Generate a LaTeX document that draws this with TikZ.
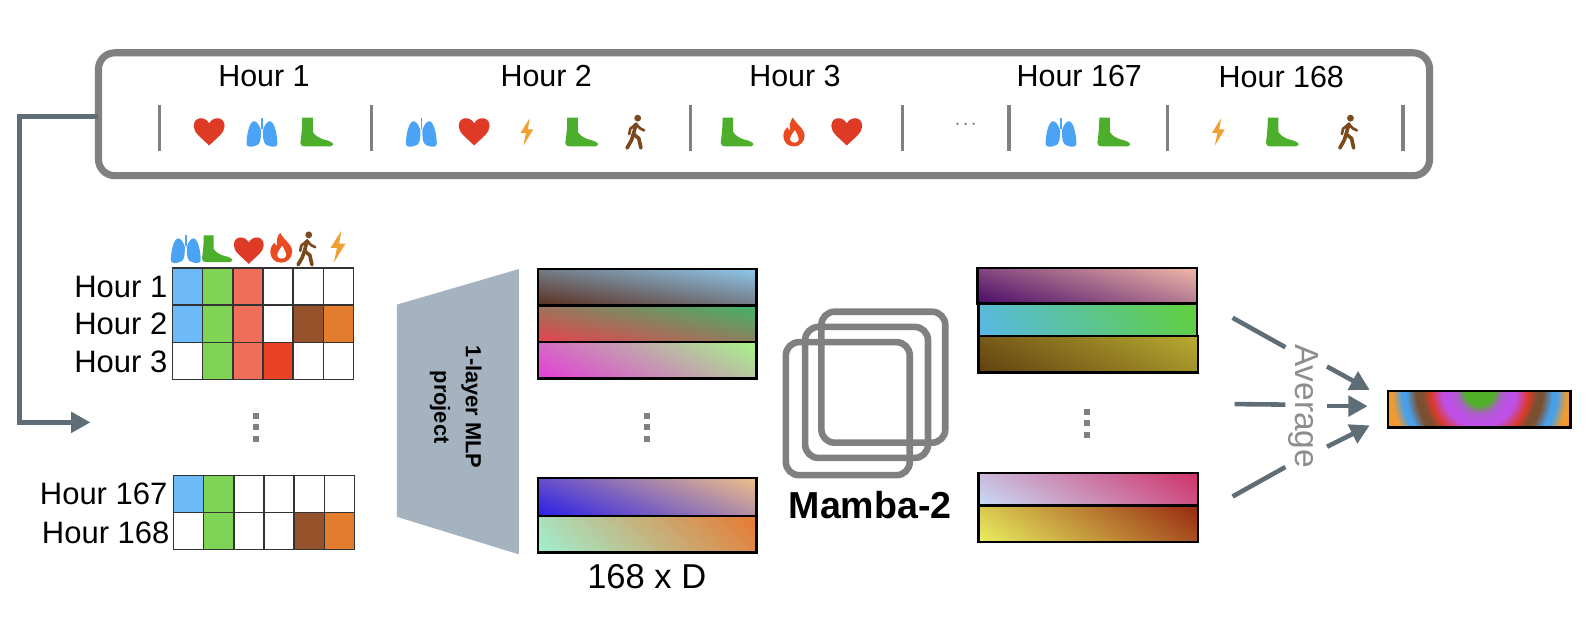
\documentclass[tikz,border=0pt]{standalone}
\usepackage{fontspec}
\setmainfont{Liberation Sans}
\usetikzlibrary{arrows.meta}
\definecolor{framegray}{HTML}{808080}
\definecolor{arrowgray}{HTML}{5F6E76}
\definecolor{icred}{HTML}{DE3A26}
\definecolor{icblue}{HTML}{4AA3F5}
\definecolor{icgreen}{HTML}{4CAF2C}
\definecolor{icorange}{HTML}{F0A030}
\definecolor{icbrown}{HTML}{7A4A1E}
\definecolor{icflame}{HTML}{EA4A20}
\definecolor{cB}{HTML}{6CBBF8}
\definecolor{cG}{HTML}{80D455}
\definecolor{cR}{HTML}{EE6E5A}
\definecolor{cF}{HTML}{EA4222}
\definecolor{cW}{HTML}{96522A}
\definecolor{cO}{HTML}{E47C2E}
\definecolor{trap}{HTML}{A5B3C0}
\definecolor{gridline}{HTML}{333333}
% name, r0 g0 b0 (lower left), r1 g1 b1 (upper right), weight of x in the gradient direction
\newcommand\defgrad[8]{\pgfdeclarefunctionalshading{#1}{\pgfpoint{-50bp}{-50bp}}{\pgfpoint{50bp}{50bp}}{}{1 #8 sub mul exch #8 mul add 50 add 100 div dup dup #5 #2 sub mul #2 add 255 div 3 1 roll #6 #3 sub mul #3 add 255 div exch #7 #4 sub mul #4 add 255 div}}
\defgrad{ga}{90}{46}{30}{142}{200}{236}{0.5}
\defgrad{gb}{232}{64}{79}{63}{181}{106}{0.55}
\defgrad{gc}{228}{60}{216}{168}{245}{138}{0.75}
\defgrad{gd}{42}{30}{232}{239}{192}{136}{0.7}
\defgrad{ge}{160}{240}{208}{232}{120}{48}{0.85}
\defgrad{gf}{74}{10}{104}{240}{184}{168}{0.65}
\defgrad{gg}{88}{184}{232}{96}{208}{56}{0.9}
\defgrad{gh}{96}{64}{15}{184}{172}{48}{0.75}
\defgrad{gi}{200}{220}{248}{208}{48}{104}{0.8}
\defgrad{gj}{232}{240}{96}{152}{40}{16}{0.8}
\definecolor{bO}{HTML}{F09A30}
\definecolor{bB}{HTML}{4AA0E8}
\definecolor{bW}{HTML}{7A5030}
\definecolor{bR}{HTML}{DC3A28}
\definecolor{bP}{HTML}{BE50E8}
\definecolor{bG}{HTML}{50B028}
\pgfdeclareradialshading{bands}{\pgfpointorigin}{color(0bp)=(bG);color(7bp)=(bG);color(11bp)=(bP!70!gray);color(15bp)=(bP);color(18bp)=(bP);color(24bp)=(bR);color(28bp)=(bW);color(31bp)=(bW);color(36bp)=(bB);color(38bp)=(bB);color(43bp)=(bO);color(50bp)=(bO)}
% gradient bar: name, x0, y0, x1, y1 (y downwards)
\newcommand\gradbar[5]{%
 \pgfmathsetmacro\sx{(#4-#2)/100.375}\pgfmathsetmacro\sy{(#5-#3)/100.375}%
 \pgfmathsetmacro\cx{(#4+#2)/2}\pgfmathsetmacro\cy{-(#5+#3)/2}%
 \begin{pgfscope}\pgftransformcm{\sx}{0}{0}{\sy}{\pgfpoint{\cx pt}{\cy pt}}\pgflowlevelsynccm\pgftext{\pgfuseshading{#1}}\end{pgfscope}%
 \draw[barbox] (#2,#3) rectangle (#4,#5);}
\tikzset{
 hourtxt/.style={font=\fontsize{30}{30}\selectfont,inner sep=0pt},
 hourlab/.style={font=\fontsize{30.5}{30.5}\selectfont,inner sep=0pt,anchor=east},
 sep/.style={draw=framegray,line width=3.5},
 fr/.style={draw=framegray,line width=7,rounded corners=16,fill=white,inner sep=0pt},
 conn/.style={draw=arrowgray,line width=4.5},
 conntip/.style={conn,-{Triangle[length=19,width=20]}},
 gridcell/.style={draw=gridline,line width=1.3},
 barbox/.style={draw=black,line width=2.5},
 dotsq/.style={fill=framegray},
 sq/.style={draw=framegray,line width=6.5,rounded corners=13},
 heartic/.pic={\fill[icred,y=1pt] (0,-14) .. controls (-8,-6) and (-16,-1) .. (-16,6) .. controls (-16,16.5) and (-4,16.5) .. (0,9) .. controls (4,16.5) and (16,16.5) .. (16,6) .. controls (16,-1) and (8,-6) .. (0,-14) -- cycle;},
 lungic/.pic={\begin{scope}[y=1pt]
  \fill[icblue] (-1,2) .. controls (-3,8) and (-6,12) .. (-9,11) .. controls (-14,9) and (-16,-6) .. (-16,-12) .. controls (-16,-16) and (-11,-16) .. (-6,-14) .. controls (-2,-13) and (-1,-9) .. (-1,2) -- cycle;
  \fill[icblue] (1,2) .. controls (3,8) and (6,12) .. (9,11) .. controls (14,9) and (16,-6) .. (16,-12) .. controls (16,-16) and (11,-16) .. (6,-14) .. controls (2,-13) and (1,-9) .. (1,2) -- cycle;
  \fill[icblue] (-0.8,15) rectangle (0.8,3);
  \end{scope}},
 footic/.pic={\fill[icgreen,y=1pt] (-14,15) -- (-3,15) -- (-3,0) .. controls (-1,-4) and (5,-7) .. (9,-8) .. controls (14,-9) and (18,-11) .. (18,-13) .. controls (18,-15) and (15,-15) .. (11,-15) -- (-11,-15) .. controls (-14,-15) and (-16,-14) .. (-16,-11) .. controls (-15,-5) and (-14,5) .. (-14,15) -- cycle;},
 boltic/.pic={\fill[icorange,y=1pt] (3,15) -- (-7,-1) -- (-1,-1) -- (-4,-15) -- (7,3) -- (1,3) -- cycle;},
 walkic/.pic={\begin{scope}[y=1pt]
  \fill[icbrown] (2,13) circle (3.2);
  \draw[icbrown,line width=3.6,line cap=round,line join=round] (0.5,7.5) -- (-2,-2) -- (3,-6) -- (5,-15);
  \draw[icbrown,line width=3.6,line cap=round,line join=round] (-2,-2) -- (-4,-8) -- (-8,-15);
  \draw[icbrown,line width=2.6,line cap=round,line join=round] (0.5,7.5) -- (-5,3) -- (-6,-2);
  \draw[icbrown,line width=2.6,line cap=round,line join=round] (0.5,7.5) -- (4,3.5) -- (8,1.5);
  \end{scope}},
 flameic/.pic={\begin{scope}[y=1pt]
  \fill[icflame] (-1,15) .. controls (2,8) and (11,4) .. (11,-4) .. controls (11,-11) and (5,-15) .. (0,-15) .. controls (-7,-15) and (-11,-10) .. (-11,-4) .. controls (-11,0) and (-9,3) .. (-7,5) .. controls (-6,3) and (-5,2) .. (-4,2) .. controls (-5,7) and (-4,12) .. (-1,15) -- cycle;
  \fill[white] (1,2) .. controls (3,-2) and (5,-5) .. (5,-8) .. controls (4,-12) and (-3,-12) .. (-4,-8) .. controls (-4,-5) and (-2,-2) .. (1,2) -- cycle;
  \end{scope}}
}
\newcommand\cellrow[3]{\foreach \c [count=\i from 0] in {#3} {\path[gridcell,fill=\c] ({#1+\i*29.67},#2) rectangle ++(29.67,36.5);}}
\newcommand\vdotsat[2]{\foreach \d in {-11,0,11}{\path[dotsq] ({#1-3},{#2+\d-3}) rectangle ++(6,6);}}
\begin{document}
\begin{tikzpicture}[x=1pt,y=-1pt]
\useasboundingbox (0,0) rectangle (1568,610.7);
\fill[white] (0,0) rectangle (1568,610.7);
% top frame
\node[fr,minimum width=1311,minimum height=121] (frame) at (752.5,112.5) {};
\node[hourtxt] (h1) at (260,75) {Hour 1};
\node[hourtxt] (h2) at (538,75) {Hour 2};
\node[hourtxt] (h3) at (783,75) {Hour 3};
\node[hourtxt] (h167) at (1063,75) {Hour 167};
\node[hourtxt] (h168) at (1262,76) {Hour 168};
\foreach \x in {157,366,680,889,994,1150,1382}{\draw[sep] (\x,103) -- (\x,149);}
\foreach \x in {206,467,834}{\pic[scale=0.95] at (\x,130) {heartic};}
\foreach \x in {258,415,1045}{\pic[scale=0.95] at (\x,130) {lungic};}
\foreach \x in {311,572,725,1096,1262}{\pic[scale=0.95] at (\x,130) {footic};}
\foreach \x in {519,1200}{\pic[scale=0.9] at (\x,130) {boltic};}
\foreach \x in {626,1328}{\pic[scale=1.05] at (\x,130) {walkic};}
\pic[scale=0.95] at (782,130) {flameic};
\foreach \x in {943,951,959}{\fill[framegray] (\x,122) circle (1.3);}
% feedback arrow
\coordinate (arrstart) at (97,115);
\coordinate (arrbend1) at (19,115);
\coordinate (arrbend2) at (19,416);
\coordinate (arrend) at (89,416);
\draw[conntip] (arrstart) -- (arrbend1) -- (arrbend2) -- (arrend);
% header icons
\pic[scale=0.92] at (183,245) {lungic};
\pic[scale=0.88] at (213,245) {footic};
\pic[scale=0.92] at (245,247) {heartic};
\pic[scale=0.98] at (277,244) {flameic};
\pic[scale=1.05] at (302,245) {walkic};
\pic[scale=1.05] at (333,243) {boltic};
% grids
\cellrow{170}{264}{cB,cG,cR,white,white,white}
\cellrow{170}{300.5}{cB,cG,cR,white,cW,cO}
\cellrow{170}{337}{white,cG,cR,cF,white,white}
\cellrow{171}{468}{cB,cG,white,white,white,white}
\cellrow{171}{505}{white,cG,white,white,cW,cO}
\node[hourlab] (g1) at (165,283) {Hour 1};
\node[hourlab] (g2) at (165,319) {Hour 2};
\node[hourlab] (g3) at (165,356) {Hour 3};
\node[hourlab] (g167) at (165,486) {Hour 167};
\node[hourlab] (g168) at (167,525) {Hour 168};
\vdotsat{252}{421}
% trapezoid
\fill[trap] (391,300) -- (511,265) -- (511,546) -- (391,509) -- cycle;
\node[rotate=-90,align=center,inner sep=0pt,font=\fontsize{21.5}{31}\selectfont\bfseries] (mlp) at (449,401) {1-layer MLP\\project};
% left bars
\gradbar{ga}{530}{265}{745}{301}
\gradbar{gb}{530}{301}{745}{337}
\gradbar{gc}{530}{337}{745}{373}
\gradbar{gd}{530}{471}{745}{508}
\gradbar{ge}{530}{508}{745}{544}
\vdotsat{637}{421}
\node[inner sep=0pt,font=\fontsize{34}{34}\selectfont] (dim) at (637,568) {168 x D};
% mamba squares
\draw[sq] (809,307) rectangle (931,436);
\draw[sq] (793,322) rectangle (914,451);
\draw[sq] (774,337) rectangle (896,468);
\node[inner sep=0pt,font=\fontsize{37}{37}\selectfont\bfseries] (mamba) at (857,497) {Mamba-2};
% right bars
\gradbar{gf}{963}{264}{1179}{299}
\gradbar{gg}{964}{299}{1179}{331}
\gradbar{gh}{964}{331}{1180}{367}
\vdotsat{1071}{417}
\gradbar{gi}{964}{466}{1180}{498}
\gradbar{gj}{964}{498}{1180}{534}
% average
\node[rotate=-90,inner sep=0pt,text=framegray!90!white,font=\fontsize{33}{33}\selectfont] (avg) at (1284,400) {Average};
\coordinate (l1a) at (1214,313); \coordinate (l1b) at (1266,342);
\coordinate (l2a) at (1216,398); \coordinate (l2b) at (1266,398.5);
\coordinate (l3a) at (1214,489); \coordinate (l3b) at (1266,460);
\coordinate (t1a) at (1307,361); \coordinate (t1b) at (1349,384);
\coordinate (t2a) at (1307,400); \coordinate (t2b) at (1347,400);
\coordinate (t3a) at (1307,440); \coordinate (t3b) at (1349,419);
\draw[conn] (l1a) -- (l1b);
\draw[conn] (l2a) -- (l2b);
\draw[conn] (l3a) -- (l3b);
\draw[conntip] (t1a) -- (t1b);
\draw[conntip] (t2a) -- (t2b);
\draw[conntip] (t3a) -- (t3b);
% final bar
\begin{scope}
\clip (1367,385) rectangle (1547,421);
\begin{pgfscope}\pgftransformcm{2}{0}{0}{2}{\pgfpoint{1457pt}{-385pt}}\pgflowlevelsynccm\pgftext{\pgfuseshading{bands}}\end{pgfscope}
\end{scope}
\draw[barbox] (1367,385) rectangle (1547,421);
\end{tikzpicture}
\end{document}
